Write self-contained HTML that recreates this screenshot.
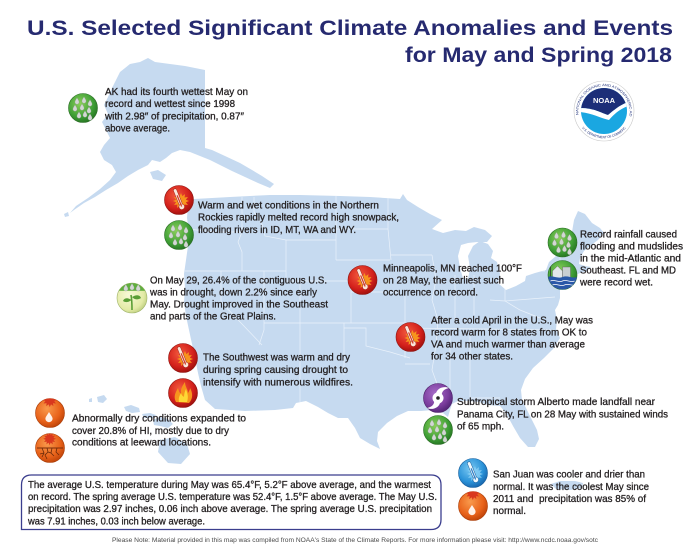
<!DOCTYPE html>
<html><head><meta charset="utf-8"><style>
html,body{margin:0;padding:0;background:#fff;overflow:hidden}
svg{display:block}
.t{font-family:"Liberation Sans",sans-serif;font-size:10.3px;fill:#231f20;stroke:#231f20;stroke-width:0.3}
.ti{font-family:"Liberation Sans",sans-serif;font-weight:bold;font-size:21px;fill:#262a70}
.ft{font-family:"Liberation Sans",sans-serif;font-size:6.2px;fill:#4a4a4a}
</style></head><body>
<svg xmlns="http://www.w3.org/2000/svg" xmlns:xlink="http://www.w3.org/1999/xlink" width="700" height="549" viewBox="0 0 700 549">
<defs>
<radialGradient id="gr" cx="40%" cy="35%" r="65%"><stop offset="0" stop-color="#f35a3e"/><stop offset="0.7" stop-color="#d3201b"/><stop offset="1" stop-color="#a5120f"/></radialGradient>
<radialGradient id="gg" cx="40%" cy="35%" r="65%"><stop offset="0" stop-color="#8bd05a"/><stop offset="0.7" stop-color="#3f9f36"/><stop offset="1" stop-color="#297a25"/></radialGradient>
<radialGradient id="go" cx="40%" cy="35%" r="65%"><stop offset="0" stop-color="#f99a4c"/><stop offset="0.7" stop-color="#e8621a"/><stop offset="1" stop-color="#c4470b"/></radialGradient>
<radialGradient id="gb" cx="40%" cy="35%" r="65%"><stop offset="0" stop-color="#79c8f2"/><stop offset="0.7" stop-color="#2a92d8"/><stop offset="1" stop-color="#1b6bb2"/></radialGradient>
<radialGradient id="gp" cx="40%" cy="35%" r="65%"><stop offset="0" stop-color="#a66cc8"/><stop offset="0.7" stop-color="#7b3d9d"/><stop offset="1" stop-color="#57287a"/></radialGradient>
<radialGradient id="gy" cx="40%" cy="40%" r="65%"><stop offset="0" stop-color="#f8f9d8"/><stop offset="0.75" stop-color="#e3eba6"/><stop offset="1" stop-color="#bfcf80"/></radialGradient>
<clipPath id="ic"><circle r="14.5"/></clipPath>
<clipPath id="nc"><circle r="23"/></clipPath>
<path id="drop" d="M0,-3.2 C1.2,-1.2 2.1,0 2.1,1.1 A2.1,2.1 0 0 1 -2.1,1.1 C-2.1,0 -1.2,-1.2 0,-3.2Z" fill="#d3d7d4" stroke="#8a948c" stroke-width="0.3"/>
<polygon id="star" points="10,1 6.83,2.29 8.93,5 5.54,4.54 6,7.93 3.29,5.83 2,9 0.71,5.83 -2,7.93 -1.54,4.54 -4.93,5 -2.83,2.29 -6,1 -2.83,-0.29 -4.93,-3 -1.54,-2.54 -2,-5.93 0.71,-3.83 2,-7 3.29,-3.83 6,-5.93 5.54,-2.54 8.93,-3 6.83,-0.29"/>
<g id="therm" transform="rotate(-22)"><rect x="-1.7" y="-12" width="3.4" height="18" rx="1.7" fill="#fbe6da" stroke="#a3231b" stroke-width="0.5"/><circle cy="7.3" r="2.8" fill="#fbe6da" stroke="#a3231b" stroke-width="0.5"/><rect x="-0.6" y="-5" width="1.2" height="12" fill="#d23a2a"/></g>
<g id="rain"><circle r="14.5" fill="url(#gg)" stroke="#2a6d24" stroke-width="0.6"/>
<use xlink:href="#drop" x="-6" y="-7"/><use xlink:href="#drop" x="1" y="-8"/><use xlink:href="#drop" x="7" y="-5"/>
<use xlink:href="#drop" x="-8" y="0"/><use xlink:href="#drop" x="-1" y="-1"/><use xlink:href="#drop" x="6" y="2"/>
<use xlink:href="#drop" x="-4" y="7"/><use xlink:href="#drop" x="2" y="6"/><use xlink:href="#drop" x="7" y="9"/></g>
<g id="warm"><circle r="14.5" fill="url(#gr)" stroke="#8f1410" stroke-width="0.6"/><use xlink:href="#star" fill="#f7941d"/><use xlink:href="#therm"/></g>
<g id="fire"><circle r="14.5" fill="url(#gr)" stroke="#8f1410" stroke-width="0.6"/>
<path d="M-7,9 C-10,3 -7,-1 -5,-5 C-4,-1 -3,0 -2,1 C-3,-4 0,-8 2,-11 C2,-6 5,-4 5,0 C6,-2 7,-3 7,-5 C10,0 10,6 6,10 Z" fill="#f7941d"/>
<path d="M-4,9 C-5,5 -3,2 -2,0 C-1,3 0,3 1,4 C1,1 2,-2 3,-4 C4,0 6,3 4,9 Z" fill="#fdd835"/></g>
<g id="dry"><circle r="14.5" fill="url(#go)" stroke="#a93d08" stroke-width="0.6"/>
<g clip-path="url(#ic)"><use xlink:href="#star" fill="#d9381e" transform="translate(-2,-14) scale(0.9)"/></g>
<path d="M-1,-1 C0.8,2 2.6,4 2.6,5.6 A3.6,3.6 0 0 1 -4.6,5.6 C-4.6,4 -2.8,2 -1,-1Z" fill="#fff" opacity="0.9"/></g>
<g id="crack"><circle r="14.5" fill="url(#go)" stroke="#a93d08" stroke-width="0.6"/>
<g clip-path="url(#ic)"><use xlink:href="#star" fill="#d9381e" transform="translate(-2,-10) scale(0.8)"/></g>
<line x1="-13" y1="0" x2="13" y2="0" stroke="#7a2d0a" stroke-width="0.9"/>
<path d="M-8,0 L-6,5 L-8,9 M-3,0 L-2,4 L-5,7 L-3,11 M2,0 L1,5 L4,8 M7,0 L6,4 L9,7 M-2,4 L1,5 M-6,5 L-10,6" stroke="#6b2a0a" stroke-width="0.8" fill="none"/></g>
<g id="cool"><circle r="14.5" fill="url(#gb)" stroke="#175e9c" stroke-width="0.6"/><use xlink:href="#star" fill="#8fd3f7" opacity="0.75"/>
<g transform="rotate(-22)"><rect x="-1.7" y="-12" width="3.4" height="18" rx="1.7" fill="#eef8fd" stroke="#1b5f9e" stroke-width="0.5"/><circle cy="7.3" r="2.8" fill="#eef8fd" stroke="#1b5f9e" stroke-width="0.5"/><rect x="-0.6" y="-5" width="1.2" height="12" fill="#2a7bc4"/></g></g>
<g id="hurr"><circle r="14.5" fill="url(#gp)" stroke="#4c2169" stroke-width="0.6"/>
<circle r="5.5" fill="#fff"/><path d="M-2,-5 C0,-11 7,-12 11,-10 C6,-9 3,-6 4,-2 Z" fill="#fff"/><path d="M2,5 C0,11 -7,12 -11,10 C-6,9 -3,6 -4,2 Z" fill="#fff"/><circle r="1.8" fill="#222"/></g>
<g id="flood"><circle r="14.5" fill="url(#gg)" stroke="#2a6d24" stroke-width="0.6"/>
<g clip-path="url(#ic)"><path d="M-10,4 L-10,-4 L-5,-9 L0,-4 L0,4 Z" fill="#e4e7ea" stroke="#555" stroke-width="0.4"/><rect x="0" y="-8" width="8" height="12" fill="#c9ced2" stroke="#555" stroke-width="0.4"/><line x1="-12" y1="-10" x2="-12" y2="4" stroke="#333" stroke-width="0.8"/>
<path d="M-15,2 C-10,0 -5,4 0,2 C5,0 10,4 15,2 L15,15 L-15,15Z" fill="#2a58a8"/><path d="M-12,6 C-8,4 -4,8 0,6 C4,4 8,8 12,6 M-10,10 C-6,8 -2,12 2,10 C6,8 9,11 12,10" stroke="#fff" stroke-width="0.7" fill="none"/></g></g>
<g id="sprout"><circle r="15" fill="url(#gy)" stroke="#9fb36a" stroke-width="0.6"/>
<g clip-path="url(#ic)" transform="scale(1.03)"><rect x="-15" y="-15" width="30" height="8" fill="#5fae3e"/><use xlink:href="#drop" x="-6" y="-10"/><use xlink:href="#drop" x="0" y="-11"/><use xlink:href="#drop" x="6" y="-10"/></g>
<path d="M0,12 C0,6 0,2 -1,-3" stroke="#5a9e35" stroke-width="1.6" fill="none"/>
<path d="M-0.5,2 C-5,-1 -8,0 -9,3 C-6,5 -3,4 -0.5,2Z" fill="#5a9e35"/><path d="M0,-1 C5,-4 8,-3 9,0 C6,2 3,2 0,-1Z" fill="#5a9e35"/></g>
<clipPath id="usclip"><path id="uspath" d="M188,205 L194,199 L230,197 L270,195 L300,195 L340,196 L370,197 L400,199 L403,194 L407,200 L418,207 L430,214 L442,220 L432,229 L443,233 L455,230 L466,231 L474,227 L485,230 L492,236 L487,242 L477,242 L468,243 L461,245 L458,256 L460,268 L463,278 L468,279 L470,268 L468,256 L473,246 L480,241 L488,244 L493,251 L491,258 L497,262 L500,274 L498,283 L506,290 L516,286 L525,281 L526,276 L535,273 L546,270 L549,262 L556,256 L566,254 L570,245 L572,232 L574,220 L578,211 L585,214 L592,223 L600,228 L604,233 L598,240 L590,246 L584,251 L580,258 L579,264 L585,266 L591,267 L587,271 L580,273 L571,277 L563,283 L560,290 L560,298 L558,305 L555,310 L557,320 L556,329 L560,338 L553,349 L544,358 L533,368 L525,379 L521,390 L522,400 L527,410 L532,420 L537,430 L539,439 L535,447 L528,447 L520,438 L513,426 L506,413 L500,406 L488,405 L479,402 L468,401 L458,401 L452,404 L450,410 L448,417 L443,413 L433,410 L421,411 L408,411 L397,416 L387,423 L378,432 L377,441 L380,449 L370,444 L360,438 L355,428 L348,418 L338,418 L328,413 L318,407 L306,401 L296,403 L293,408 L275,410 L245,411 L215,409 L205,400 L201,386 L198,373 L195,358 L192,344 L189,330 L186,316 L184,302 L185,288 L184,274 L186,260 L188,246 L189,232 L187,218 Z"/></clipPath>
</defs>
<rect width="700" height="549" fill="#fff"/>

<!-- Map -->
<g fill="#c6daf0">
<path d="M120,72 L130,64 L140,62 L148,58 L155,62 L170,64 L185,66 L205,70 L205,148 L212,150 L225,156 L240,163 L252,170 L262,176 L274,184 L270,188 L258,183 L245,177 L232,171 L220,165 L210,160 L200,156 L190,152 L180,150 L172,153 L166,158 L160,162 L152,160 L148,165 L138,170 L128,176 L118,183 L106,190 L95,197 L84,203 L74,210 L70,213 L76,206 L88,198 L100,189 L110,180 L116,172 L112,165 L104,160 L100,152 L104,145 L110,138 L106,130 L102,122 L108,114 L104,105 L108,97 L112,88 L116,80 Z"/>
<path d="M150,172 L158,170 L166,175 L162,181 L153,179 Z"/>
<path d="M64,214 L68,212 L69,216 L65,217 Z"/>
<use xlink:href="#uspath"/>
<path d="M97,397 L104,395 L107,399 L103,403 L98,402 Z"/>
<path d="M89,399 L92,398 L92,402 L89,402 Z"/>
<path d="M124,407 L131,405 L139,408 L140,412 L132,413 L126,411 Z"/>
<path d="M142,414 L150,413 L156,415 L154,418 L144,418 Z"/>
<path d="M153,420 L160,417 L168,419 L173,424 L168,428 L160,426 L154,425 Z"/>
<path d="M160,440 L175,437 L187,444 L190,454 L181,464 L168,463 L158,452 Z"/>
<path d="M551,484 L560,481 L575,481 L583,483 L582,488 L570,490 L556,489 Z"/>
</g>
<g clip-path="url(#usclip)" stroke="#eaf2fb" stroke-width="0.7" fill="none">
<path d="M188,229 L215,232 L242,232 M242,197 L242,232 L238,242 L242,252 L242,271 M185,271 L286,271 M221,271 L221,302 L262,345 M264,271 L264,330 L259,345 M254,197 L254,212 L262,224 L265,236 L286,240 M286,240 L336,240 M286,240 L286,281 M286,281 L351,281 M336,196 L336,260 M336,229 L388,229 M336,260 L390,260 M351,281 L351,292 L400,292 M300,281 L300,405 M351,292 L351,323 M264,323 L405,323 M344,323 L344,375 M344,328 L366,328 L366,346 L390,352 L410,358 M388,197 L388,229 L391,260 M391,255 L432,255 M405,292 L405,358 M405,328 L555,330 M405,364 L430,364 M432,255 L436,280 L432,300 L438,320 L436,345 L432,370 L440,392 M450,330 L450,405 M470,330 L470,398 L500,398 M474,275 L474,315 M455,275 L455,320 M505,271 L505,301 L555,297 M505,271 L545,271 M490,300 L505,301 L520,310 L540,318 M560,255 L560,285 M555,271 L575,271"/>
</g>

<!-- Title -->
<text class="ti" x="27" y="35" textLength="646" lengthAdjust="spacingAndGlyphs">U.S. Selected Significant Climate Anomalies and Events</text>
<text class="ti" x="405" y="62" textLength="267" lengthAdjust="spacingAndGlyphs">for May and Spring 2018</text>

<!-- NOAA logo -->
<g transform="translate(604,111)">
<circle r="30" fill="#fff" stroke="#c8c8c8" stroke-width="0.6"/>
<circle r="23" fill="#1aa7e1"/>
<g clip-path="url(#nc)">
<path d="M-24,-24 H24 V-9 C16,-6 10,-1 4,4 C-3,2 -10,-3 -24,-3 Z" fill="#1c2e78"/>
<path d="M-24,-3 C-10,-3 -3,2 4,4 C10,-1 16,-6 24,-9 L24,-5 C16,-2 10,3 5,9 C-4,7 -12,2 -24,1 Z" fill="#fff"/>
</g>
<text x="0" y="-8" font-family="Liberation Sans,sans-serif" font-weight="bold" font-size="7.5" fill="#fff" text-anchor="middle">NOAA</text>
<path id="ntop" d="M-25.5,4 A25.7,25.7 0 1 1 25.5,4" fill="none"/>
<path id="nbot" d="M-22,17 A28.5,28.5 0 0 0 22,17" fill="none"/>
<text font-family="Liberation Sans,sans-serif" font-size="3.4" fill="#1c2e78"><textPath xlink:href="#ntop" textLength="118" lengthAdjust="spacingAndGlyphs">NATIONAL OCEANIC AND ATMOSPHERIC ADMINISTRATION</textPath></text>
<text font-family="Liberation Sans,sans-serif" font-size="3.4" fill="#1c2e78"><textPath xlink:href="#nbot" textLength="52" lengthAdjust="spacingAndGlyphs">U.S. DEPARTMENT OF COMMERCE</textPath></text>
</g>

<!-- Icons -->
<use xlink:href="#rain" x="83" y="108"/>
<use xlink:href="#warm" x="179" y="200"/>
<use xlink:href="#rain" x="179" y="235"/>
<use xlink:href="#sprout" x="132" y="298"/>
<use xlink:href="#warm" x="362.5" y="280"/>
<use xlink:href="#rain" x="562.5" y="242.5"/>
<use xlink:href="#flood" x="562.5" y="275"/>
<use xlink:href="#warm" x="410.5" y="337"/>
<use xlink:href="#warm" x="183" y="358"/>
<use xlink:href="#fire" x="183" y="393"/>
<use xlink:href="#dry" x="50" y="413"/>
<use xlink:href="#crack" x="50" y="448"/>
<use xlink:href="#hurr" x="438" y="398"/>
<use xlink:href="#rain" x="438" y="430"/>
<use xlink:href="#cool" x="473" y="473"/>
<use xlink:href="#dry" x="473" y="506"/>

<!-- Texts -->
<g class="t">
<text x="105" y="95" textLength="143" lengthAdjust="spacingAndGlyphs">AK had its fourth wettest May on</text>
<text x="105" y="107.2" textLength="130" lengthAdjust="spacingAndGlyphs">record and wettest since 1998</text>
<text x="105" y="119.4" textLength="139" lengthAdjust="spacingAndGlyphs">with 2.98″ of precipitation, 0.87″</text>
<text x="105" y="131.6" textLength="65" lengthAdjust="spacingAndGlyphs">above average.</text>

<text x="198" y="208.5" textLength="181" lengthAdjust="spacingAndGlyphs">Warm and wet conditions in the Northern</text>
<text x="198" y="220.7" textLength="201" lengthAdjust="spacingAndGlyphs">Rockies rapidly melted record high snowpack,</text>
<text x="198" y="232.8" textLength="158" lengthAdjust="spacingAndGlyphs">flooding rivers in ID, MT, WA and WY.</text>

<text x="150" y="283.3" textLength="177" lengthAdjust="spacingAndGlyphs">On May 29, 26.4% of the contiguous U.S.</text>
<text x="150" y="295.5" textLength="167" lengthAdjust="spacingAndGlyphs">was in drought, down 2.2% since early</text>
<text x="150" y="307.7" textLength="178" lengthAdjust="spacingAndGlyphs">May. Drought improved in the Southeast</text>
<text x="150" y="319.5" textLength="126" lengthAdjust="spacingAndGlyphs">and parts of the Great Plains.</text>

<text x="383" y="271.7" textLength="139" lengthAdjust="spacingAndGlyphs">Minneapolis, MN reached 100°F</text>
<text x="383" y="283.5" textLength="121" lengthAdjust="spacingAndGlyphs">on 28 May, the earliest such</text>
<text x="383" y="295.3" textLength="95" lengthAdjust="spacingAndGlyphs">occurrence on record.</text>

<text x="580" y="237.3" textLength="97" lengthAdjust="spacingAndGlyphs">Record rainfall caused</text>
<text x="580" y="249.3" textLength="103" lengthAdjust="spacingAndGlyphs">flooding and mudslides</text>
<text x="580" y="261.3" textLength="101" lengthAdjust="spacingAndGlyphs">in the mid-Atlantic and</text>
<text x="580" y="273.5" textLength="96" lengthAdjust="spacingAndGlyphs">Southeast. FL and MD</text>
<text x="580" y="285.5" textLength="73" lengthAdjust="spacingAndGlyphs">were record wet.</text>

<text x="431" y="323.3" textLength="162" lengthAdjust="spacingAndGlyphs">After a cold April in the U.S., May was</text>
<text x="431" y="335.3" textLength="156" lengthAdjust="spacingAndGlyphs">record warm for 8 states from OK to</text>
<text x="431" y="347.5" textLength="154" lengthAdjust="spacingAndGlyphs">VA and much warmer than average</text>
<text x="431" y="359.5" textLength="82" lengthAdjust="spacingAndGlyphs">for 34 other states.</text>

<text x="203" y="360.7" textLength="147" lengthAdjust="spacingAndGlyphs">The Southwest was warm and dry</text>
<text x="203" y="373" textLength="145" lengthAdjust="spacingAndGlyphs">during spring causing drought to</text>
<text x="203" y="385.5" textLength="150" lengthAdjust="spacingAndGlyphs">intensify with numerous wildfires.</text>

<text x="72" y="421.7" textLength="174" lengthAdjust="spacingAndGlyphs">Abnormally dry conditions expanded to</text>
<text x="72" y="434" textLength="157" lengthAdjust="spacingAndGlyphs">cover 20.8% of HI, mostly due to dry</text>
<text x="72" y="445.7" textLength="139" lengthAdjust="spacingAndGlyphs">conditions at leeward locations.</text>

<text x="457" y="405" textLength="198" lengthAdjust="spacingAndGlyphs">Subtropical storm Alberto made landfall near</text>
<text x="457" y="417.3" textLength="211" lengthAdjust="spacingAndGlyphs">Panama City, FL on 28 May with sustained winds</text>
<text x="457" y="429.3" textLength="47" lengthAdjust="spacingAndGlyphs">of 65 mph.</text>

<text x="493" y="477.7" textLength="152" lengthAdjust="spacingAndGlyphs">San Juan was cooler and drier than</text>
<text x="493" y="490" textLength="156" lengthAdjust="spacingAndGlyphs">normal. It was the coolest May since</text>
<text x="493" y="501.9" textLength="153" lengthAdjust="spacingAndGlyphs">2011 and&#160; precipitation was 85% of</text>
<text x="493" y="514" textLength="33" lengthAdjust="spacingAndGlyphs">normal.</text>
</g>

<!-- Summary box -->
<path d="M21.5,529.5 L21.5,485 Q21.5,475 31.5,475 L431,475 Q441,475 441,485 L441,519.5 Q441,529.5 431,529.5 Z" fill="#fff" stroke="#3b3e8e" stroke-width="1.3"/>
<g class="t">
<text x="28" y="488" textLength="403" lengthAdjust="spacingAndGlyphs">The average U.S. temperature during May was 65.4°F, 5.2°F above average, and the warmest</text>
<text x="28" y="500.1" textLength="409" lengthAdjust="spacingAndGlyphs">on record. The spring average U.S. temperature was 52.4°F, 1.5°F above average. The May U.S.</text>
<text x="28" y="512.2" textLength="404" lengthAdjust="spacingAndGlyphs">precipitation was 2.97 inches, 0.06 inch above average. The spring average U.S. precipitation</text>
<text x="28" y="524.3" textLength="177" lengthAdjust="spacingAndGlyphs">was 7.91 inches, 0.03 inch below average.</text>
</g>

<text class="ft" x="112" y="542" textLength="486" lengthAdjust="spacingAndGlyphs">Please Note: Material provided in this map was compiled from NOAA's State of the Climate Reports. For more information please visit: http://www.ncdc.noaa.gov/sotc</text>
</svg>
</body></html>
